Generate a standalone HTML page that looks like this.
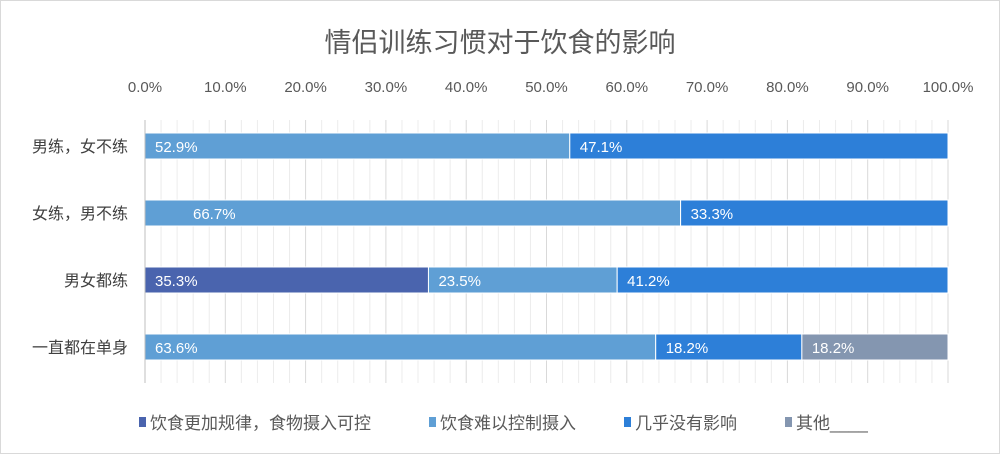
<!DOCTYPE html>
<html><head><meta charset="utf-8"><style>
body{margin:0;background:#fff;}
svg text{font-family:"Liberation Sans","Noto Sans CJK SC",sans-serif;}
</style></head><body>
<svg id="chart" width="1000" height="454" xmlns="http://www.w3.org/2000/svg">
<rect x="0.5" y="0.5" width="999" height="453" fill="#fff" stroke="#d9d9d9"/>
<text x="500" y="52" text-anchor="middle" font-size="27" fill="#595959">情侣训练习惯对于饮食的影响</text>
<g id="grid"></g><g id="bars"></g><g id="axis"></g>
<g id="legend"></g>
</svg>
<script>
const categories=["男练，女不练","女练，男不练","男女都练","一直都在单身"];
const seriesNames=["饮食更加规律，食物摄入可控","饮食难以控制摄入","几乎没有影响","其他____"];
const s1=[0,0,35.3,0];
const s2=[52.9,66.7,23.5,63.6];
const s3=[47.1,33.3,41.2,18.2];
const s4=[0,0,0,18.2];
const ticks=[0,10,20,30,40,50,60,70,80,90,100];
const colors=["#4a64ae","#5f9fd5","#2d7fd8","#8496b0"];
const NS="http://www.w3.org/2000/svg";
const x0=145,x1=948;
const xs=v=>x0+(x1-x0)*v/100;
const rowY=i=>146+i*67;
function mk(t,a,p){const e=document.createElementNS(NS,t);for(const k in a)e.setAttribute(k,a[k]);p.appendChild(e);return e;}
const grid=document.getElementById('grid');
for(let v=2;v<=100;v+=2){
 const l=mk('line',{x1:xs(v),x2:xs(v),y1:120,y2:383,stroke:v%10===0?'#d9d9d9':'#ececec','stroke-width':1},grid);
 
 
}
const axis=document.getElementById('axis');
const al=mk('line',{x1:x0,x2:x0,y1:120,y2:383,stroke:'#bfbfbf'},axis);


ticks.forEach(v=>{
 const t=mk('text',{x:xs(v),y:92,'text-anchor':'middle','font-size':15,fill:'#595959'},axis);
 t.textContent=v.toFixed(1)+'%';
 
 
});
categories.forEach((c,i)=>{
 const t=mk('text',{x:128,y:rowY(i)+6,'text-anchor':'end','font-size':16,fill:'#404040'},axis);
 t.textContent=c;
 
 
});
const bars=document.getElementById('bars');
const series=[s1,s2,s3,s4];
categories.forEach((c,i)=>{
 let acc=0;
 series.forEach((s,k)=>{
  const v=s[i]; if(!v) return;
  const r=mk('rect',{x:xs(acc),y:rowY(i)-13,width:xs(acc+v)-xs(acc),height:26,fill:colors[k],stroke:'#fff','stroke-width':1},bars);
  
  
  const off=(i===1&&k===1)?48:10;
  const t=mk('text',{x:xs(acc)+off,y:rowY(i)+6,'font-size':15,fill:'#fff'},bars);
  t.textContent=v.toFixed(1)+'%';
  
  
  acc+=v;
 });
});
const lg=document.getElementById('legend');
const lx=[139,429,624,785];
seriesNames.forEach((n,k)=>{
 const r=mk('rect',{x:lx[k],y:417,width:7,height:10,fill:colors[k]},lg);
 
 
 const t=mk('text',{x:lx[k]+11,y:429,'font-size':17,fill:'#595959'},lg);
 t.textContent=n;
 
 
});
</script>
</body></html>
